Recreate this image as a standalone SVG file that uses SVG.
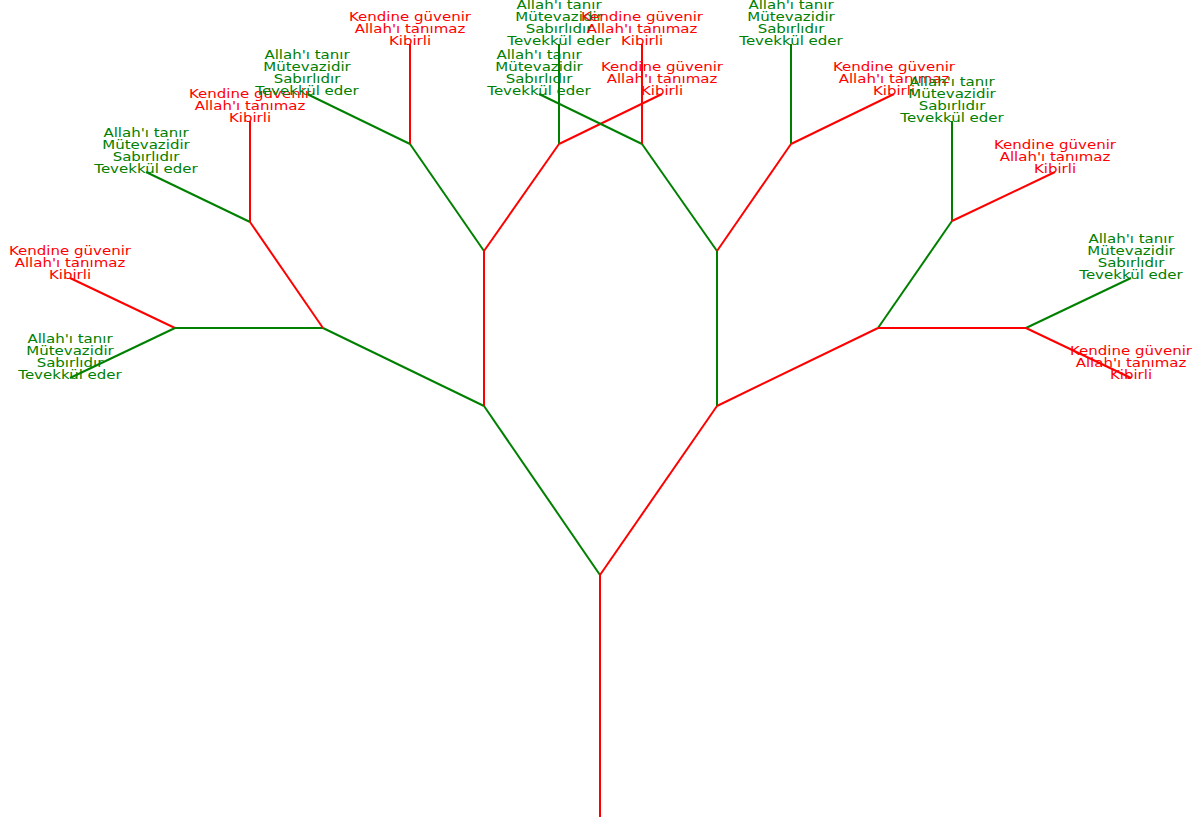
<svg xmlns="http://www.w3.org/2000/svg" width="1199" height="822" viewBox="0 0 1199 822">
<style>
.r{stroke:#ff0000;stroke-width:2;fill:none}
.g{stroke:#008000;stroke-width:2;fill:none}
text{font-family:"DejaVu Sans",Verdana,sans-serif;font-size:12px;text-anchor:middle}
.tr{fill:#ff0000}
.tg{fill:#008000}
</style>
<rect width="1199" height="822" fill="#ffffff"/>
<g id="connectors">
<line class="r" x1="600" y1="817" x2="600" y2="575"/>
<line class="g" x1="600" y1="575" x2="484" y2="406"/>
<line class="r" x1="600" y1="575" x2="717" y2="406"/>
<line class="g" x1="484" y1="406" x2="323" y2="328"/>
<line class="r" x1="484" y1="406" x2="484" y2="251"/>
<line class="g" x1="323" y1="328" x2="175" y2="328"/>
<line class="r" x1="323" y1="328" x2="250" y2="222"/>
<line class="r" x1="175" y1="328" x2="70" y2="278"/>
<line class="g" x1="175" y1="328" x2="70" y2="378"/>
<line class="g" x1="250" y1="222" x2="146" y2="172"/>
<line class="r" x1="250" y1="222" x2="250" y2="121"/>
<line class="g" x1="484" y1="251" x2="410" y2="144"/>
<line class="r" x1="484" y1="251" x2="559" y2="144"/>
<line class="g" x1="410" y1="144" x2="307" y2="94"/>
<line class="r" x1="410" y1="144" x2="410" y2="44"/>
<line class="g" x1="559" y1="144" x2="559" y2="44"/>
<line class="r" x1="559" y1="144" x2="662" y2="94"/>
<line class="g" x1="717" y1="406" x2="717" y2="251"/>
<line class="r" x1="717" y1="406" x2="878" y2="328"/>
<line class="g" x1="717" y1="251" x2="642" y2="144"/>
<line class="r" x1="717" y1="251" x2="791" y2="144"/>
<line class="g" x1="642" y1="144" x2="539" y2="94"/>
<line class="r" x1="642" y1="144" x2="642" y2="44"/>
<line class="g" x1="791" y1="144" x2="791" y2="44"/>
<line class="r" x1="791" y1="144" x2="894" y2="94"/>
<line class="g" x1="878" y1="328" x2="952" y2="221"/>
<line class="r" x1="878" y1="328" x2="1026" y2="328"/>
<line class="g" x1="952" y1="221" x2="952" y2="121"/>
<line class="r" x1="952" y1="221" x2="1055" y2="172"/>
<line class="g" x1="1026" y1="328" x2="1131" y2="278"/>
<line class="r" x1="1026" y1="328" x2="1131" y2="378"/>
</g>
<defs>
<text id="redlbl" class="tr"><tspan x="0" y="-23">Kendine güvenir</tspan><tspan x="0" y="-11">Allah'ı tanımaz</tspan><tspan x="0" y="1">Kibirli</tspan></text>
<text id="greenlbl" class="tg"><tspan x="0" y="-35">Allah'ı tanır</tspan><tspan x="0" y="-23">Mütevazidir</tspan><tspan x="0" y="-11">Sabırlıdır</tspan><tspan x="0" y="1">Tevekkül eder</tspan></text>
</defs>
<g id="leaf1" transform="translate(70,278) scale(1.25,1)"><text class="tr"><tspan x="0" y="-23">Kendine güvenir</tspan><tspan x="0" y="-11">Allah'ı tanımaz</tspan><tspan x="0" y="1">Kibirli</tspan></text></g>
<g id="leaf2" transform="translate(70,378) scale(1.25,1)"><text class="tg"><tspan x="0" y="-35">Allah'ı tanır</tspan><tspan x="0" y="-23">Mütevazidir</tspan><tspan x="0" y="-11">Sabırlıdır</tspan><tspan x="0" y="1">Tevekkül eder</tspan></text></g>
<g id="leaf3" transform="translate(146,172) scale(1.25,1)"><text class="tg"><tspan x="0" y="-35">Allah'ı tanır</tspan><tspan x="0" y="-23">Mütevazidir</tspan><tspan x="0" y="-11">Sabırlıdır</tspan><tspan x="0" y="1">Tevekkül eder</tspan></text></g>
<g id="leaf4" transform="translate(250,121) scale(1.25,1)"><text class="tr"><tspan x="0" y="-23">Kendine güvenir</tspan><tspan x="0" y="-11">Allah'ı tanımaz</tspan><tspan x="0" y="1">Kibirli</tspan></text></g>
<g id="leaf5" transform="translate(307,94) scale(1.25,1)"><text class="tg"><tspan x="0" y="-35">Allah'ı tanır</tspan><tspan x="0" y="-23">Mütevazidir</tspan><tspan x="0" y="-11">Sabırlıdır</tspan><tspan x="0" y="1">Tevekkül eder</tspan></text></g>
<g id="leaf6" transform="translate(410,44) scale(1.25,1)"><text class="tr"><tspan x="0" y="-23">Kendine güvenir</tspan><tspan x="0" y="-11">Allah'ı tanımaz</tspan><tspan x="0" y="1">Kibirli</tspan></text></g>
<g id="leaf7" transform="translate(559,44) scale(1.25,1)"><text class="tg"><tspan x="0" y="-35">Allah'ı tanır</tspan><tspan x="0" y="-23">Mütevazidir</tspan><tspan x="0" y="-11">Sabırlıdır</tspan><tspan x="0" y="1">Tevekkül eder</tspan></text></g>
<g id="leaf8" transform="translate(662,94) scale(1.25,1)"><text class="tr"><tspan x="0" y="-23">Kendine güvenir</tspan><tspan x="0" y="-11">Allah'ı tanımaz</tspan><tspan x="0" y="1">Kibirli</tspan></text></g>
<g id="leaf9" transform="translate(539,94) scale(1.25,1)"><text class="tg"><tspan x="0" y="-35">Allah'ı tanır</tspan><tspan x="0" y="-23">Mütevazidir</tspan><tspan x="0" y="-11">Sabırlıdır</tspan><tspan x="0" y="1">Tevekkül eder</tspan></text></g>
<g id="leaf10" transform="translate(642,44) scale(1.25,1)"><text class="tr"><tspan x="0" y="-23">Kendine güvenir</tspan><tspan x="0" y="-11">Allah'ı tanımaz</tspan><tspan x="0" y="1">Kibirli</tspan></text></g>
<g id="leaf11" transform="translate(791,44) scale(1.25,1)"><text class="tg"><tspan x="0" y="-35">Allah'ı tanır</tspan><tspan x="0" y="-23">Mütevazidir</tspan><tspan x="0" y="-11">Sabırlıdır</tspan><tspan x="0" y="1">Tevekkül eder</tspan></text></g>
<g id="leaf12" transform="translate(894,94) scale(1.25,1)"><text class="tr"><tspan x="0" y="-23">Kendine güvenir</tspan><tspan x="0" y="-11">Allah'ı tanımaz</tspan><tspan x="0" y="1">Kibirli</tspan></text></g>
<g id="leaf13" transform="translate(952,121) scale(1.25,1)"><text class="tg"><tspan x="0" y="-35">Allah'ı tanır</tspan><tspan x="0" y="-23">Mütevazidir</tspan><tspan x="0" y="-11">Sabırlıdır</tspan><tspan x="0" y="1">Tevekkül eder</tspan></text></g>
<g id="leaf14" transform="translate(1055,172) scale(1.25,1)"><text class="tr"><tspan x="0" y="-23">Kendine güvenir</tspan><tspan x="0" y="-11">Allah'ı tanımaz</tspan><tspan x="0" y="1">Kibirli</tspan></text></g>
<g id="leaf15" transform="translate(1131,278) scale(1.25,1)"><text class="tg"><tspan x="0" y="-35">Allah'ı tanır</tspan><tspan x="0" y="-23">Mütevazidir</tspan><tspan x="0" y="-11">Sabırlıdır</tspan><tspan x="0" y="1">Tevekkül eder</tspan></text></g>
<g id="leaf16" transform="translate(1131,378) scale(1.25,1)"><text class="tr"><tspan x="0" y="-23">Kendine güvenir</tspan><tspan x="0" y="-11">Allah'ı tanımaz</tspan><tspan x="0" y="1">Kibirli</tspan></text></g>
</svg>
